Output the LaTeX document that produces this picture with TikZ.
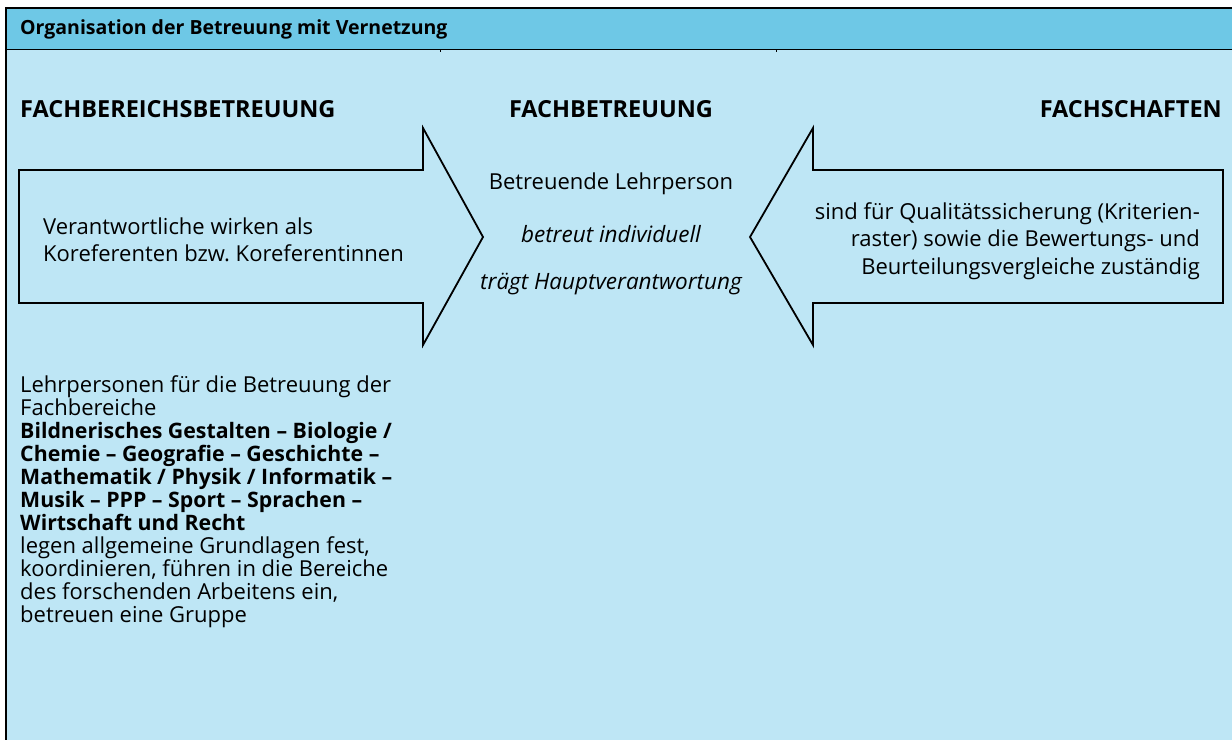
\documentclass[tikz,border=0pt]{standalone}
\usepackage{fontspec}
\setmainfont{Open Sans}
\usetikzlibrary{positioning}
\definecolor{headblue}{HTML}{6EC8E6}
\definecolor{bodyblue}{HTML}{BEE6F5}
\frenchspacing
\newcommand{\fbold}[1]{{\fontsize{21.3}{23}\selectfont\bfseries #1}} % bold subject names
\tikzset{
    txt/.style={inner sep=0pt, font=\fontsize{22}{23}\selectfont}, % normal text
    itxt/.style={inner sep=0pt, font=\fontsize{22.5}{23}\selectfont\itshape}, % italic text
    hd/.style={inner sep=0pt, font=\fontsize{23.5}{23}\selectfont\bfseries}, % headings
    arrtxt/.style={inner sep=0pt, font=\fontsize{22}{27.5}\selectfont}, % text inside the arrows
    bigarrow/.style={draw=black, line width=1.8pt, line join=miter, fill=bodyblue},
}

\begin{document}
\begin{tikzpicture}[x=1pt, y=-1pt]
        \useasboundingbox (0, 0) rectangle (1232, 740);
        \fill[white] (0, 0) rectangle (1232, 740);
        \fill[bodyblue] (6, 49) rectangle (1232, 740);
        \fill[headblue] (6, 8) rectangle (1232, 49);
        \draw[line width=0.8pt] (6, 49) -- (1232, 49);
        \draw[line width=0.8pt] (440, 49) -- (440, 52);
        \draw[line width=0.8pt] (776, 49) -- (776, 52);
        \draw[line width=2pt] (1232, 8) -- (6, 8) -- (6, 740);
        % title
        \node[hd, font=\fontsize{19.5}{23}\selectfont\bfseries, anchor=base west] (title) at (20, 34)
            {Organisation der Betreuung mit Vernetzung};
        % column headings
        \node[hd, anchor=base west] (bereich) at (20, 117) {FACHBEREICHSBETREUUNG};
        \node[hd, anchor=base] (fach) at (611, 117) {FACHBETREUUNG};
        \node[hd, anchor=base east] (schaft) at (1222, 117) {FACHSCHAFTEN};
        % arrows
        \draw[bigarrow] (19, 170) -- (423, 170) -- (423, 128) -- (483, 237)
            -- (423, 345) -- (423, 303) -- (19, 303) -- cycle;
        \draw[bigarrow] (1223, 170) -- (813, 170) -- (813, 128) -- (750, 237)
            -- (813, 345) -- (813, 303) -- (1223, 303) -- cycle;
        \node[arrtxt, anchor=west, align=left] (koref) at (43, 240)
            {Verantwortliche wirken als\\Koreferenten bzw. Koreferentinnen};
        \node[arrtxt, anchor=east, align=right] (quali) at (1200, 241)
            {sind für Qualitätssicherung (Kriterien-\\raster) sowie die Bewertungs- und\\Beurteilungsvergleiche zuständig};
        % middle column
        \node[txt] (lp) at (611, 184) {Betreuende Lehrperson};
        \node[itxt, below=30pt of lp] (indiv) {betreut individuell};
        \node[itxt, below=30pt of indiv] (haupt) {trägt Hauptverantwortung};
        % lower block
        \node[txt, anchor=north west, align=left] (lehr) at (20, 375)
            {Lehrpersonen für die Betreuung der\\
             Fachbereiche\\
             \fbold{Bildnerisches Gestalten – Biologie /}\\
             \fbold{Chemie – Geografie – Geschichte –}\\
             \fbold{Mathematik / Physik / Informatik –}\\
             \fbold{Musik – PPP – Sport – Sprachen –}\\
             \fbold{Wirtschaft und Recht}\\
             legen allgemeine Grundlagen fest,\\
             koordinieren, führen in die Bereiche\\
             des forschenden Arbeitens ein,\\
             betreuen eine Gruppe};
    \end{tikzpicture}
\end{document}
